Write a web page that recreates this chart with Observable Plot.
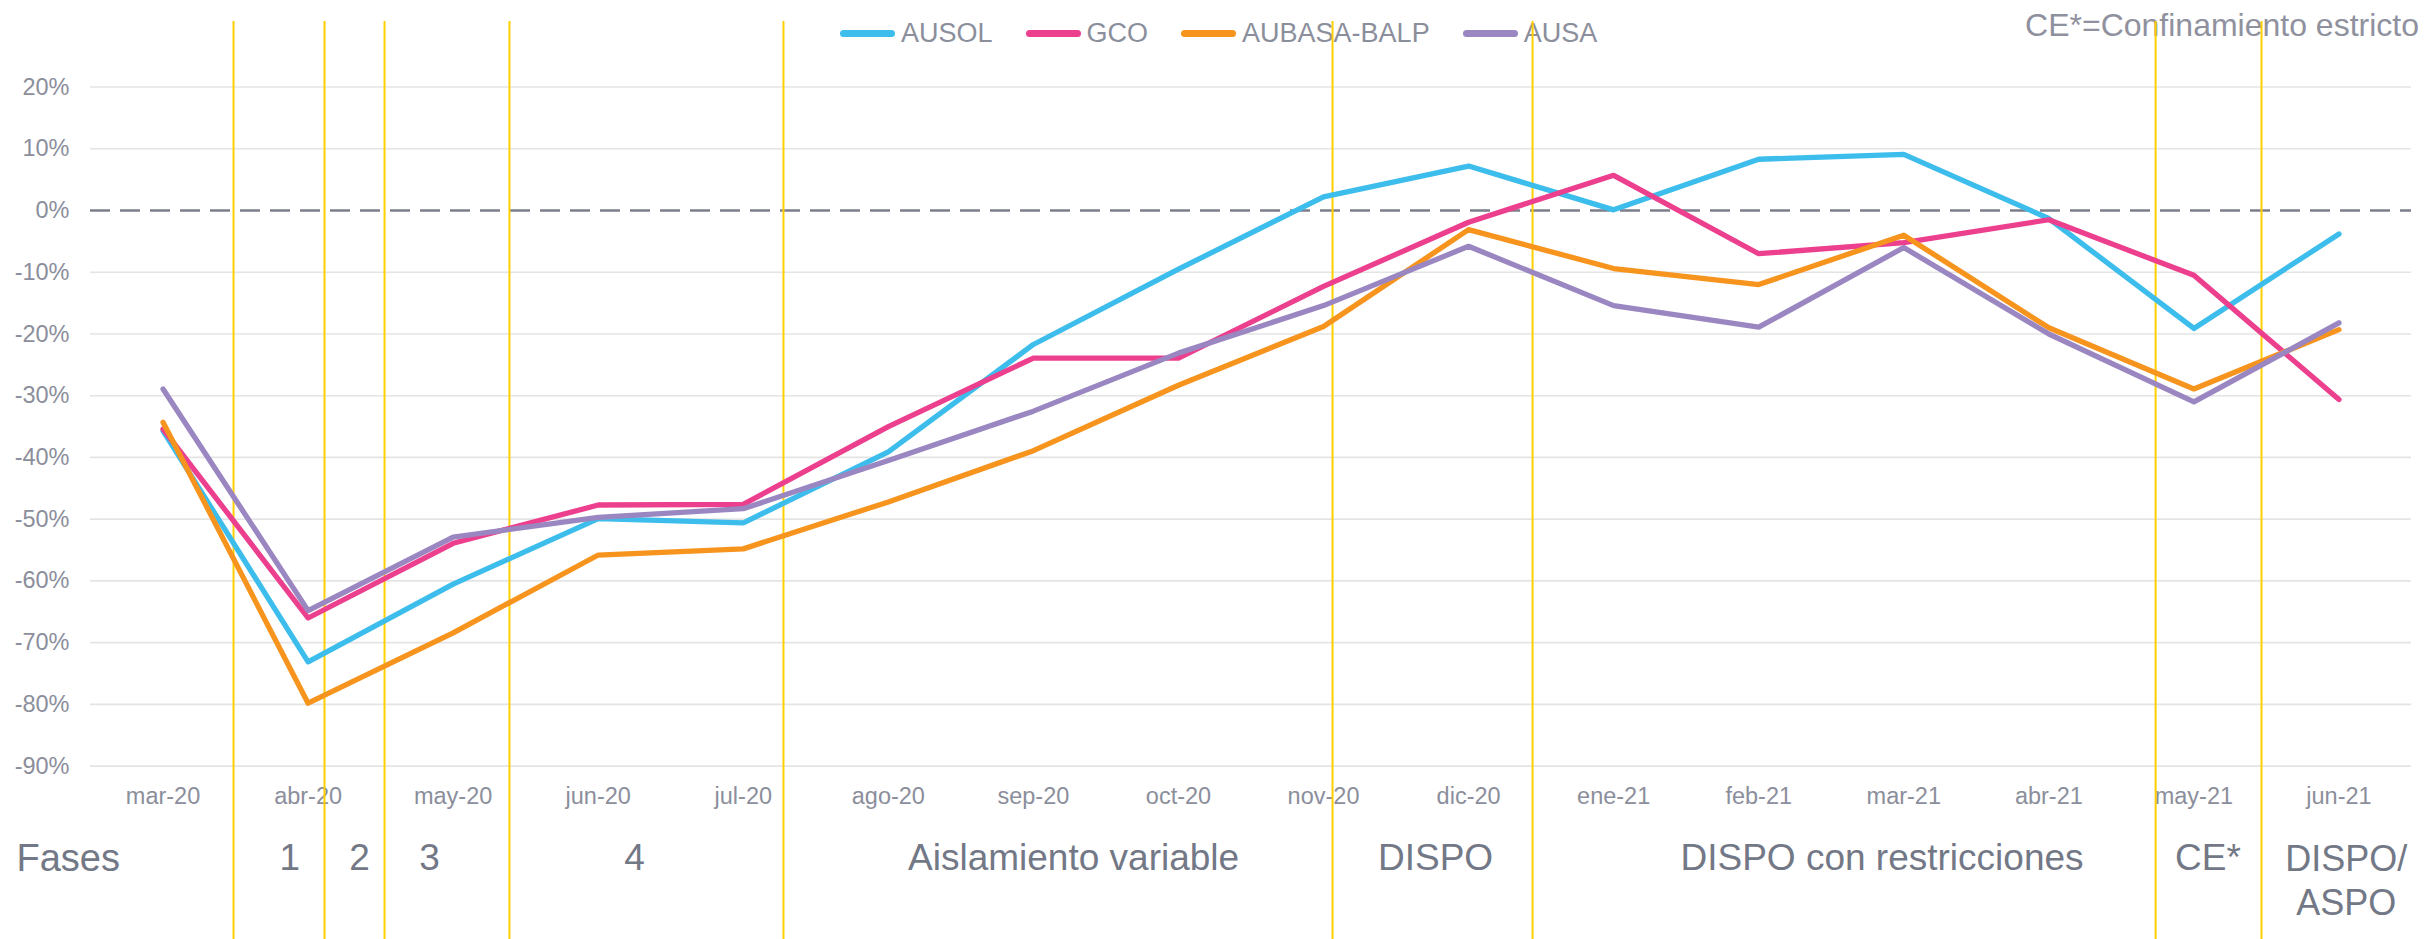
<!DOCTYPE html>
<html>
<head>
<meta charset="utf-8">
<script src="https://cdn.jsdelivr.net/npm/d3@7"></script>
<script src="https://cdn.jsdelivr.net/npm/@observablehq/plot@0.6"></script>
<style>
  html, body { margin: 0; padding: 0; background: #ffffff; }
  #wrap { position: relative; width: 2425px; height: 939px; overflow: hidden; font-family: "Liberation Sans", Arial, sans-serif; }
  #legend { position: absolute; left: 840px; top: 20.4px; line-height: 27px; font-size: 27px; color: #8b8e9b; white-space: nowrap; z-index: 0; }
  #legend .item { display: inline-block; margin-right: 33px; }
  #legend .sw { display: inline-block; width: 55px; height: 6.5px; border-radius: 4px; vertical-align: middle; position: relative; top: -2px; margin-right: 6px; }
  #note { position: absolute; right: 6px; top: 8.6px; font-size: 32px; line-height: 32px; color: #8f919e; white-space: nowrap; z-index: 0; }
  #chart { position: absolute; left: 0; top: 0; z-index: 1; }
  #chart svg { background: transparent !important; }
</style>
</head>
<body>
<div id="wrap">
  <div id="legend"></div>
  <div id="note">CE*=Confinamiento estricto</div>
  <div id="chart"></div>
</div>
<script>
// ---- Data ----
const months = ["mar-20","abr-20","may-20","jun-20","jul-20","ago-20","sep-20","oct-20","nov-20","dic-20","ene-21","feb-21","mar-21","abr-21","may-21","jun-21"];
const seriesNames = ["AUSOL","GCO","AUBASA-BALP","AUSA"];
const seriesColors = ["#3dbdec","#ec3f8e","#f7941e","#9a87c1"];
const ausol  = [-35.7, -73.1, -60.5, -49.9, -50.6, -39.1, -21.7,  -9.5,   2.2,   7.2,   0.1,   8.3,   9.1,  -1.3, -19.1,  -3.8];
const gco    = [-35.4, -66.0, -53.9, -47.7, -47.6, -35.0, -23.9, -23.9, -12.3,  -1.9,   5.7,  -7.0,  -5.2,  -1.5, -10.5, -30.6];
const aubasa = [-34.3, -79.8, -68.4, -55.8, -54.8, -47.2, -38.9, -28.3, -18.8,  -3.1,  -9.4, -12.0,  -4.0, -19.0, -28.9, -19.3];
const ausa   = [-28.9, -64.8, -52.9, -49.7, -48.3, -40.5, -32.5, -23.1, -15.4,  -5.8, -15.4, -18.9,  -6.0, -20.0, -31.0, -18.2];
const yTicks = [-90, -80, -70, -60, -50, -40, -30, -20, -10, 0, 10, 20];
// phase boundaries, in month-index units (0 = mar-20)
const phaseBounds = [0.486, 1.113, 1.527, 2.388, 4.277, 8.062, 9.441, 13.736, 14.466];
const phaseLabels = ["1", "2", "3", "4", "Aislamiento variable", "DISPO", "DISPO con restricciones", "CE*"];
const phaseLabelPos = [0.874, 1.354, 1.837, 3.25, 6.277, 8.772, 11.85, 14.097];
const lastPhaseLabel = ["DISPO/\nASPO"];
const lastPhasePos = [15.05];
const phaseTitle = ["Fases"];

// ---- Build tables ----
const seriesValues = [ausol, gco, aubasa, ausa];
const table = [];
seriesNames.forEach((name, s) => {
  seriesValues[s].forEach((v, i) => table.push({series: name, i, value: v}));
});
const phases = phaseLabels.map((label, k) => ({label, x: phaseLabelPos[k]}));
const lastPhase = lastPhaseLabel.map((label, k) => ({label, x: lastPhasePos[k]}));

// ---- Legend (HTML) ----
const legend = document.getElementById("legend");
seriesNames.forEach((n, k) => {
  const it = document.createElement("span");
  it.className = "item";
  const sw = document.createElement("span");
  sw.className = "sw";
  sw.style.background = seriesColors[k];
  it.appendChild(sw);
  it.appendChild(document.createTextNode(n));
  legend.appendChild(it);
});

// ---- Plot ----
const MT = 86.5, MB = 173.3;
const chart = Plot.plot({
  width: 2425,
  height: 939,
  marginLeft: 90,
  marginRight: 14,
  marginTop: MT,
  marginBottom: MB,
  style: {fontFamily: "'Liberation Sans', Arial, sans-serif", color: "#8b8e9b", background: "transparent", overflow: "visible"},
  x: {type: "linear", domain: [-0.5, 15.5]},
  y: {domain: [-90, 20]},
  color: {domain: seriesNames, range: seriesColors},
  marks: [
    Plot.gridY(yTicks.filter(d => d !== 0), {stroke: "#e4e4e4", strokeOpacity: 1, strokeWidth: 1.7}),
    Plot.axisY(yTicks, {tickSize: 0, tickPadding: 21, tickFormat: d => `${d}%`, fontSize: 23.5, label: null, fill: "#8b8e9b"}),
    Plot.axisX(d3.range(months.length), {tickSize: 0, tickPadding: 21, tickFormat: i => months[i], fontSize: 23.5, label: null, fill: "#8b8e9b"}),
    Plot.ruleY([0], {stroke: "#7b7d8a", strokeWidth: 2.5, strokeDasharray: "20,10"}),
    Plot.ruleX(phaseBounds, {stroke: "#ffcf00", strokeWidth: 2, insetTop: -(MT - 21), insetBottom: -MB}),
    Plot.line(table, {x: "i", y: "value", z: "series", stroke: "series", strokeWidth: 5.3, strokeLinejoin: "round", strokeLinecap: "round"}),
    Plot.text(phaseTitle, {text: d => d, frameAnchor: "bottom-left", textAnchor: "start", dx: -74, dy: 92.3, lineAnchor: "middle", fontSize: 38, fill: "#737886"}),
    Plot.text(phases, {x: "x", text: "label", frameAnchor: "bottom", dy: 92.3, lineAnchor: "middle", fontSize: 37, fill: "#737886"}),
    Plot.text(lastPhase, {x: "x", text: "label", frameAnchor: "bottom", dy: 113, lineAnchor: "middle", lineHeight: 1.2, fontSize: 36, fill: "#737886"})
  ]
});
document.getElementById("chart").appendChild(chart);
</script>
</body>
</html>
